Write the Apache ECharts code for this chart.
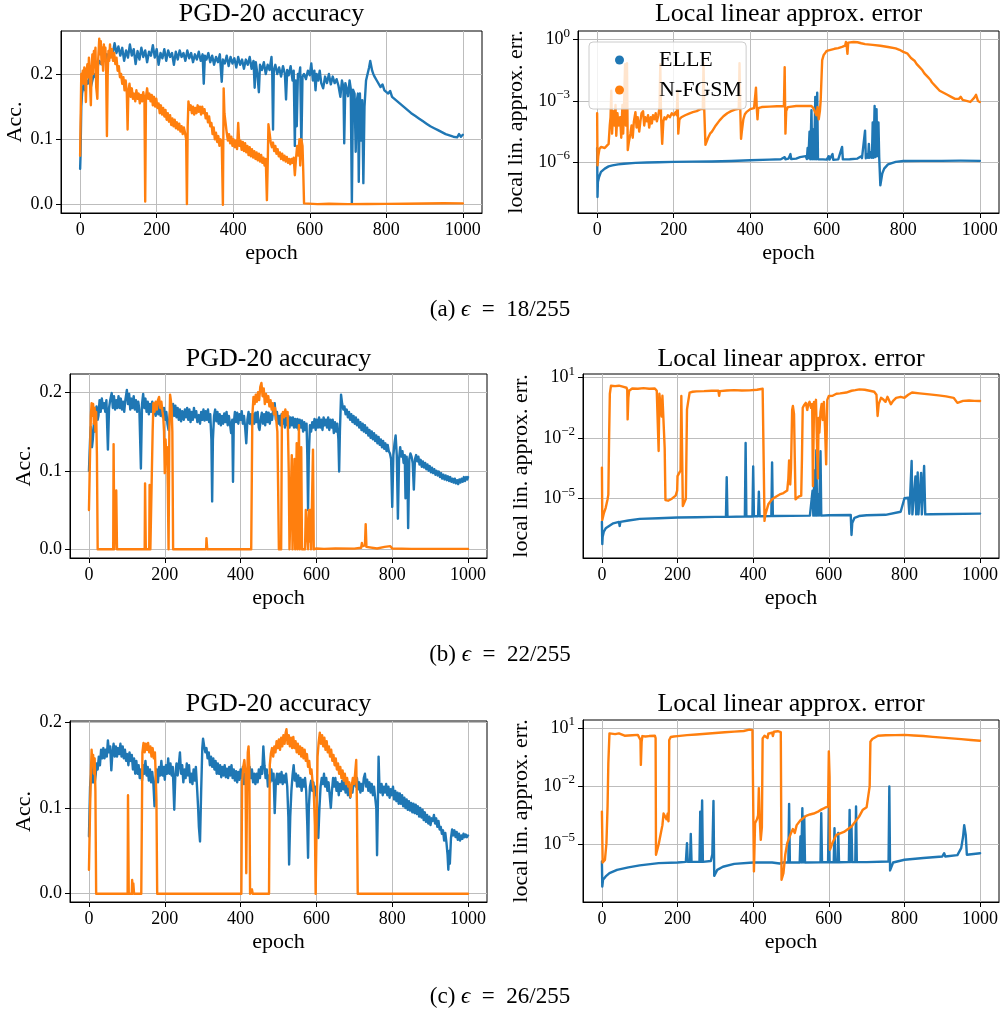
<!DOCTYPE html>
<html><head><meta charset="utf-8">
<script src="https://cdn.jsdelivr.net/npm/echarts@6/dist/echarts.min.js"></script>
<style>html,body{margin:0;padding:0;background:#fff}#c{width:1003px;height:1013px}</style>
</head><body><div id="c"></div><script>
// ---------- data (epoch, value). Error series are stored as log10(error) ----------
const epochTicks = [0,200,400,600,800,1000];
const accTicks = [0,0.1,0.2];
const errTicksA = [-6,-3,0];
const errTicksBC = [-5,-2,1];
const seriesNames = ['ELLE','N-FGSM'];
const captions = ['(a) {i|\u03f5}\u2002=\u200218/255','(b) {i|\u03f5}\u2002=\u200222/255','(c) {i|\u03f5}\u2002=\u200226/255'];

const aAccELLE = [[0,0.055],[1,0.075],[3,0.15],[5,0.17],[8,0.18],[10,0.19],[13,0.175],[16,0.19],[20,0.185],[24,0.195],[28,0.18],[32,0.19],[36,0.2],[40,0.195],[45,0.21],[50,0.22],[55,0.215],[60,0.225],[65,0.22],[70,0.23],[75,0.225],[80,0.235],[85,0.23],[90,0.247],[95,0.232],[100,0.242],[105,0.228],[110,0.24],[115,0.22],[120,0.236],[125,0.225],[130,0.245],[135,0.228],[140,0.238],[145,0.215],[150,0.235],[155,0.222],[160,0.24],[165,0.226],[170,0.236],[175,0.218],[180,0.234],[185,0.228],[190,0.244],[195,0.225],[200,0.238],[205,0.214],[210,0.232],[215,0.224],[220,0.238],[225,0.22],[230,0.236],[235,0.226],[240,0.232],[245,0.214],[250,0.234],[255,0.222],[260,0.236],[265,0.226],[270,0.232],[275,0.22],[280,0.236],[285,0.224],[290,0.232],[295,0.218],[300,0.23],[305,0.222],[310,0.234],[315,0.22],[320,0.23],[323,0.185],[326,0.228],[330,0.222],[335,0.232],[340,0.218],[345,0.228],[350,0.214],[355,0.226],[360,0.218],[365,0.23],[370,0.188],[373,0.222],[378,0.216],[383,0.228],[388,0.212],[393,0.226],[398,0.216],[403,0.224],[408,0.21],[413,0.226],[418,0.214],[423,0.222],[428,0.208],[433,0.222],[438,0.214],[443,0.226],[448,0.208],[453,0.22],[456,0.179],[459,0.218],[463,0.2],[467,0.172],[470,0.214],[475,0.206],[480,0.218],[485,0.2],[490,0.214],[495,0.206],[500,0.226],[502,0.2],[504,0.115],[506,0.205],[510,0.214],[515,0.2],[520,0.21],[525,0.196],[530,0.212],[535,0.2],[538,0.161],[541,0.206],[545,0.198],[550,0.212],[555,0.19],[558,0.205],[561,0.09],[563,0.19],[566,0.12],[569,0.2],[572,0.196],[575,0.21],[578,0.087],[581,0.196],[585,0.2],[590,0.192],[595,0.205],[600,0.198],[604,0.216],[608,0.19],[612,0.205],[615,0.175],[618,0.2],[622,0.19],[626,0.205],[630,0.186],[635,0.178],[640,0.196],[645,0.186],[650,0.2],[655,0.184],[660,0.196],[665,0.186],[670,0.192],[675,0.182],[680,0.165],[684,0.19],[688,0.18],[690,0.094],[693,0.186],[697,0.176],[700,0.166],[704,0.19],[707,0.178],[710,0.002],[713,0.176],[717,0.17],[720,0.081],[723,0.16],[726,0.17],[728,0.035],[731,0.17],[734,0.098],[737,0.16],[740,0.033],[743,0.15],[747,0.19],[751,0.2],[755,0.21],[758,0.22],[760,0.222],[763,0.205],[766,0.2],[770,0.195],[775,0.19],[780,0.188],[785,0.18],[790,0.184],[795,0.175],[800,0.178],[805,0.17],[810,0.174],[815,0.165],[820,0.168],[825,0.16],[830,0.163],[835,0.155],[840,0.158],[845,0.15],[850,0.152],[855,0.145],[860,0.148],[865,0.14],[870,0.142],[875,0.136],[880,0.138],[885,0.132],[890,0.134],[895,0.128],[900,0.13],[905,0.124],[910,0.126],[915,0.12],[920,0.122],[925,0.117],[930,0.119],[935,0.114],[940,0.116],[945,0.111],[950,0.113],[955,0.108],[960,0.11],[965,0.106],[970,0.108],[975,0.104],[980,0.106],[985,0.103],[990,0.108],[995,0.104],[1000,0.107]];

const aAccNFGSM = [[0,0.075],[1,0.12],[3,0.2],[5,0.19],[7,0.205],[9,0.185],[11,0.21],[13,0.2],[15,0.157],[17,0.205],[19,0.215],[21,0.195],[23,0.225],[25,0.2],[28,0.152],[30,0.21],[32,0.23],[34,0.2],[36,0.235],[38,0.21],[40,0.24],[42,0.18],[45,0.162],[47,0.22],[50,0.254],[52,0.23],[54,0.25],[56,0.215],[58,0.24],[60,0.205],[62,0.245],[64,0.225],[66,0.24],[68,0.2],[70,0.105],[72,0.2],[74,0.235],[76,0.22],[78,0.245],[80,0.225],[83,0.238],[86,0.22],[89,0.232],[92,0.215],[95,0.225],[98,0.205],[101,0.212],[104,0.195],[107,0.2],[110,0.185],[113,0.195],[116,0.175],[119,0.19],[122,0.17],[124,0.115],[126,0.172],[129,0.185],[132,0.165],[135,0.178],[138,0.162],[141,0.17],[144,0.158],[147,0.175],[150,0.162],[153,0.17],[156,0.155],[159,0.168],[162,0.158],[165,0.172],[168,0.16],[170,0.005],[172,0.165],[175,0.178],[178,0.162],[181,0.17],[184,0.158],[187,0.168],[190,0.152],[193,0.165],[196,0.15],[199,0.162],[202,0.148],[205,0.155],[208,0.14],[211,0.152],[214,0.138],[217,0.148],[220,0.135],[223,0.145],[226,0.13],[229,0.14],[232,0.127],[235,0.137],[238,0.122],[241,0.132],[244,0.12],[247,0.13],[250,0.117],[253,0.126],[256,0.115],[259,0.124],[262,0.112],[265,0.12],[268,0.108],[271,0.118],[274,0.11],[277,0.1],[279,0.001],[281,0.12],[283,0.158],[286,0.145],[289,0.152],[292,0.14],[295,0.15],[298,0.138],[301,0.148],[304,0.14],[307,0.152],[310,0.142],[313,0.15],[316,0.138],[319,0.15],[322,0.14],[325,0.146],[328,0.132],[331,0.14],[334,0.126],[337,0.135],[340,0.12],[343,0.125],[346,0.108],[349,0.118],[352,0.1],[355,0.11],[358,0.096],[361,0.105],[364,0.09],[367,0.1],[370,0.095],[373,0.0],[375,0.178],[377,0.14],[380,0.125],[383,0.11],[386,0.098],[389,0.108],[392,0.094],[395,0.104],[398,0.09],[401,0.1],[404,0.088],[407,0.098],[410,0.085],[413,0.125],[416,0.09],[419,0.098],[422,0.084],[425,0.096],[428,0.082],[431,0.094],[434,0.08],[437,0.09],[440,0.076],[443,0.088],[446,0.074],[449,0.085],[452,0.072],[455,0.082],[458,0.07],[461,0.08],[464,0.068],[467,0.078],[470,0.066],[473,0.076],[476,0.064],[479,0.072],[482,0.06],[485,0.07],[488,0.007],[490,0.06],[492,0.123],[495,0.11],[498,0.095],[501,0.088],[504,0.095],[507,0.082],[510,0.09],[513,0.078],[516,0.085],[519,0.074],[522,0.08],[525,0.07],[528,0.078],[531,0.068],[534,0.075],[537,0.066],[540,0.073],[543,0.064],[546,0.07],[549,0.062],[552,0.07],[555,0.064],[558,0.072],[561,0.045],[564,0.07],[567,0.09],[570,0.075],[573,0.1],[575,0.06],[578,0.1],[581,0.09],[583,0.05],[585,0.002],[590,0.001],[620,0.0008],[650,0.0015],[652,0.0005],[700,0.0008],[750,0.001],[800,0.0012],[850,0.0015],[900,0.0018],[950,0.0022],[1000,0.002]];

const aErrELLE = [[0,-5.3],[1,-7.7],[2,-6.96],[5,-6.72],[10,-6.47],[15,-6.38],[20,-6.31],[30,-6.2],[40,-6.15],[55,-6.1],[70,-6.07],[100,-6.03],[130,-6.01],[160,-6.0],[200,-5.98],[250,-5.97],[300,-5.96],[350,-5.94],[400,-5.9],[450,-5.87],[480,-5.85],[490,-5.75],[492,-5.85],[500,-5.82],[505,-5.6],[507,-5.84],[520,-5.82],[530,-5.75],[535,-5.84],[545,-5.7],[548,-5.84],[550,-5.3],[552,-5.8],[555,-4.5],[557,-5.85],[560,-3.45],[562,-5.85],[565,-4.4],[567,-5.85],[570,-2.8],[572,-5.85],[575,-2.6],[577,-5.85],[580,-5.88],[590,-5.86],[600,-5.87],[605,-5.7],[607,-5.87],[615,-5.6],[617,-5.88],[630,-5.86],[640,-5.25],[642,-5.86],[660,-5.85],[680,-5.82],[690,-5.7],[692,-5.8],[700,-4.45],[702,-5.8],[705,-5.6],[708,-5.78],[710,-5.1],[712,-5.78],[716,-5.5],[718,-5.78],[720,-4.05],[722,-5.78],[725,-3.25],[727,-5.75],[730,-3.4],[732,-5.7],[735,-4.05],[737,-5.75],[740,-7.13],[745,-6.55],[750,-6.31],[760,-6.1],[780,-5.98],[800,-5.94],[850,-5.93],[900,-5.93],[950,-5.92],[1000,-5.93]];

const aErrNFGSM = [[0,-3.6],[1,-6.15],[3,-5.7],[6,-5.35],[10,-5.25],[15,-5.2],[20,-5.3],[25,-5.2],[30,-5.1],[33,-4.2],[35,-3.8],[37,-2.5],[39,-4.6],[42,-3.5],[45,-4.2],[48,-3.2],[50,-4.7],[53,-3.6],[56,-4.2],[60,-3.8],[63,-4.8],[66,-3.2],[68,-4.6],[70,-3.5],[73,-1.2],[75,-4.2],[78,-1.15],[80,-5.4],[83,-5.0],[87,-4.6],[90,-4.2],[93,-4.8],[96,-4.0],[100,-3.55],[103,-4.3],[106,-3.8],[110,-4.5],[113,-4.0],[116,-3.6],[120,-3.5],[123,-4.2],[126,-3.8],[130,-4.0],[133,-3.7],[136,-4.3],[140,-3.8],[143,-4.1],[146,-3.7],[150,-3.9],[153,-3.6],[156,-4.0],[160,-3.7],[163,-3.3],[165,-1.2],[167,-3.8],[170,-5.1],[173,-4.0],[176,-3.8],[180,-3.9],[185,-3.7],[190,-3.8],[195,-3.6],[200,-3.7],[205,-3.55],[208,-3.7],[210,-2.5],[212,-4.6],[215,-3.9],[220,-3.8],[230,-3.7],[240,-3.62],[250,-3.55],[260,-3.5],[270,-3.4],[276,-3.4],[278,-1.15],[280,-3.5],[283,-5.15],[286,-5.0],[290,-4.8],[295,-4.6],[300,-4.5],[310,-4.2],[320,-3.95],[330,-3.75],[340,-3.6],[350,-3.5],[360,-3.42],[370,-3.38],[372,-1.15],[374,-3.4],[376,-4.85],[378,-4.5],[382,-3.9],[386,-3.65],[390,-3.55],[400,-3.4],[410,-3.35],[414,-3.3],[415,-2.35],[417,-3.3],[419,-3.9],[421,-3.35],[430,-3.3],[450,-3.28],[470,-3.26],[488,-3.25],[490,-1.35],[492,-4.6],[494,-3.5],[498,-3.3],[520,-3.25],[540,-3.24],[560,-3.25],[565,-3.35],[570,-3.3],[573,-3.7],[576,-3.3],[579,-3.9],[582,-3.5],[584,-3.0],[586,-2.0],[588,-1.0],[592,-0.75],[596,-0.65],[600,-0.55],[610,-0.5],[620,-0.45],[630,-0.42],[640,-0.36],[648,-0.3],[650,-0.12],[652,-0.3],[654,-0.7],[656,-0.15],[660,-0.1],[670,-0.12],[680,-0.13],[690,-0.18],[700,-0.22],[720,-0.26],[740,-0.3],[760,-0.36],[780,-0.43],[790,-0.5],[800,-0.6],[810,-0.67],[820,-0.9],[825,-0.95],[830,-1.05],[835,-1.2],[840,-1.3],[845,-1.38],[850,-1.5],[855,-1.65],[860,-1.72],[865,-1.85],[870,-1.95],[875,-2.1],[880,-2.15],[885,-2.3],[890,-2.3],[895,-2.5],[900,-2.48],[905,-2.6],[910,-2.55],[915,-2.7],[920,-2.68],[925,-2.8],[930,-2.75],[935,-2.9],[940,-2.82],[945,-2.9],[950,-2.8],[955,-2.95],[960,-2.9],[965,-3.0],[970,-2.92],[975,-3.05],[980,-2.98],[985,-2.85],[990,-2.7],[995,-3.0],[1000,-3.05]];

const bAccELLE = [[0,0.1],[3,0.14],[5,0.156],[8,0.13],[10,0.139],[13,0.16],[15,0.15],[18,0.175],[20,0.182],[23,0.165],[25,0.17],[28,0.19],[31,0.175],[34,0.192],[37,0.18],[40,0.186],[43,0.175],[46,0.19],[50,0.127],[53,0.18],[56,0.19],[60,0.199],[63,0.18],[66,0.195],[69,0.178],[72,0.19],[75,0.18],[78,0.195],[81,0.18],[84,0.192],[87,0.178],[90,0.188],[93,0.175],[96,0.19],[100,0.203],[103,0.185],[106,0.198],[109,0.178],[112,0.192],[115,0.18],[118,0.195],[121,0.178],[124,0.19],[127,0.175],[130,0.188],[133,0.178],[137,0.103],[140,0.185],[143,0.198],[146,0.18],[149,0.192],[152,0.175],[155,0.188],[158,0.172],[161,0.185],[164,0.175],[167,0.188],[170,0.172],[173,0.185],[176,0.17],[180,0.184],[183,0.172],[186,0.186],[189,0.17],[192,0.182],[195,0.168],[198,0.18],[201,0.165],[204,0.175],[207,0.16],[210,0.152],[213,0.17],[216,0.182],[219,0.168],[222,0.185],[225,0.17],[228,0.183],[231,0.168],[234,0.18],[237,0.165],[240,0.178],[243,0.163],[246,0.176],[250,0.165],[253,0.178],[256,0.168],[259,0.18],[262,0.165],[265,0.178],[268,0.162],[271,0.175],[274,0.165],[277,0.18],[280,0.168],[283,0.176],[286,0.162],[290,0.171],[293,0.16],[296,0.175],[299,0.165],[302,0.178],[305,0.164],[308,0.176],[311,0.165],[314,0.178],[317,0.162],[320,0.172],[323,0.14],[325,0.061],[327,0.14],[330,0.17],[333,0.178],[336,0.163],[339,0.175],[342,0.16],[345,0.172],[348,0.158],[351,0.17],[354,0.16],[357,0.173],[360,0.162],[363,0.175],[366,0.158],[369,0.17],[372,0.16],[375,0.148],[378,0.165],[380,0.086],[382,0.16],[385,0.175],[388,0.162],[391,0.174],[394,0.16],[397,0.172],[400,0.165],[403,0.176],[406,0.16],[409,0.17],[412,0.155],[415,0.135],[418,0.165],[421,0.175],[424,0.16],[427,0.172],[430,0.158],[433,0.172],[436,0.16],[439,0.174],[442,0.162],[445,0.175],[448,0.155],[450,0.152],[453,0.165],[456,0.174],[459,0.16],[462,0.172],[465,0.158],[468,0.175],[471,0.162],[474,0.174],[477,0.16],[480,0.172],[483,0.165],[486,0.178],[490,0.186],[493,0.165],[496,0.175],[499,0.16],[502,0.17],[505,0.158],[508,0.172],[511,0.16],[514,0.17],[517,0.155],[520,0.168],[523,0.158],[526,0.17],[529,0.155],[532,0.168],[535,0.158],[538,0.168],[541,0.155],[544,0.166],[547,0.155],[550,0.166],[553,0.152],[556,0.165],[559,0.155],[562,0.164],[565,0.15],[568,0.162],[571,0.152],[574,0.16],[576,0.12],[578,0.05],[580,0.12],[583,0.158],[586,0.15],[589,0.162],[592,0.155],[595,0.166],[598,0.152],[601,0.165],[604,0.155],[607,0.168],[610,0.155],[613,0.165],[616,0.152],[619,0.168],[622,0.158],[625,0.165],[628,0.155],[631,0.168],[634,0.152],[637,0.165],[640,0.155],[643,0.165],[646,0.148],[649,0.162],[652,0.15],[655,0.16],[658,0.14],[660,0.099],[662,0.15],[665,0.197],[668,0.185],[671,0.178],[674,0.182],[677,0.172],[680,0.178],[683,0.168],[686,0.175],[689,0.165],[692,0.172],[695,0.162],[698,0.17],[701,0.16],[704,0.168],[707,0.158],[710,0.165],[713,0.155],[716,0.162],[719,0.152],[722,0.16],[725,0.15],[728,0.158],[731,0.148],[734,0.155],[737,0.145],[740,0.152],[743,0.142],[746,0.15],[749,0.14],[752,0.148],[755,0.138],[758,0.145],[761,0.135],[764,0.143],[767,0.133],[770,0.14],[773,0.13],[776,0.138],[779,0.128],[782,0.135],[785,0.125],[788,0.133],[791,0.125],[794,0.122],[797,0.115],[800,0.054],[803,0.12],[806,0.135],[809,0.145],[812,0.12],[815,0.039],[818,0.115],[821,0.13],[824,0.118],[827,0.125],[830,0.11],[833,0.12],[835,0.065],[838,0.118],[840,0.1],[842,0.027],[845,0.115],[848,0.122],[851,0.118],[854,0.11],[857,0.076],[860,0.115],[863,0.12],[866,0.112],[869,0.118],[872,0.108],[875,0.114],[878,0.105],[881,0.112],[884,0.104],[887,0.11],[890,0.102],[893,0.108],[896,0.1],[899,0.106],[902,0.098],[905,0.104],[908,0.097],[911,0.102],[914,0.095],[917,0.1],[920,0.094],[923,0.099],[926,0.092],[929,0.097],[932,0.09],[935,0.095],[938,0.089],[941,0.094],[944,0.088],[947,0.093],[950,0.087],[953,0.092],[956,0.086],[959,0.09],[962,0.085],[965,0.09],[968,0.084],[971,0.088],[974,0.083],[977,0.089],[980,0.085],[983,0.09],[986,0.086],[989,0.092],[992,0.087],[995,0.092],[998,0.089],[1000,0.092]];

const bAccNFGSM = [[0,0.05],[2,0.1],[5,0.17],[7,0.186],[9,0.17],[11,0.185],[13,0.16],[15,0.18],[17,0.15],[19,0.175],[21,0.12],[23,0.0],[64,0.0],[65,0.134],[67,0.0],[71,0.0],[72,0.075],[74,0.0],[147,0.0],[148,0.084],[150,0.0],[159,0.0],[160,0.082],[162,0.0],[166,0.0],[168,0.15],[170,0.186],[173,0.175],[176,0.188],[179,0.178],[182,0.19],[185,0.194],[188,0.18],[191,0.188],[194,0.175],[196,0.169],[198,0.15],[200,0.097],[202,0.14],[204,0.12],[206,0.13],[208,0.08],[210,0.0],[212,0.15],[214,0.197],[216,0.19],[218,0.18],[220,0.15],[222,0.0],[309,0.0],[310,0.014],[312,0.0],[428,0.0],[431,0.17],[434,0.194],[437,0.185],[440,0.197],[443,0.188],[446,0.2],[449,0.19],[452,0.207],[455,0.212],[458,0.195],[461,0.205],[464,0.185],[467,0.198],[470,0.188],[473,0.195],[476,0.182],[479,0.19],[482,0.178],[485,0.186],[488,0.172],[491,0.18],[494,0.165],[497,0.15],[499,0.08],[501,0.0],[507,0.0],[509,0.17],[512,0.175],[515,0.168],[518,0.178],[521,0.17],[524,0.175],[527,0.1],[529,0.0],[534,0.0],[535,0.12],[537,0.0],[541,0.0],[542,0.115],[544,0.0],[547,0.0],[548,0.135],[550,0.0],[553,0.0],[554,0.158],[556,0.0],[558,0.0],[560,0.13],[562,0.0],[570,0.0],[572,0.05],[575,0.048],[578,0.0],[580,0.05],[582,0.01],[584,0.05],[586,0.0],[589,0.0],[591,0.127],[593,0.0],[600,0.001],[620,0.0005],[650,0.001],[700,0.0008],[718,0.002],[720,0.008],[722,0.004],[728,0.005],[730,0.032],[732,0.003],[736,0.002],[760,0.001],[780,0.003],[785,0.001],[795,0.004],[800,0.001],[850,0.0005],[1000,0.0005]];

const bErrELLE = [[0,-6.14],[1,-7.25],[2,-6.88],[5,-6.64],[10,-6.47],[20,-6.34],[30,-6.22],[45,-6.15],[47,-6.35],[49,-6.15],[70,-6.08],[100,-6.0],[150,-5.97],[200,-5.93],[250,-5.92],[300,-5.9],[328,-5.9],[330,-3.94],[332,-5.9],[378,-5.88],[380,-2.24],[382,-5.88],[398,-5.88],[400,-3.4],[402,-5.87],[413,-5.87],[415,-4.65],[417,-5.87],[448,-5.86],[450,-3.2],[452,-5.86],[500,-5.85],[550,-5.84],[555,-5.84],[557,-4.6],[559,-5.84],[562,-3.6],[564,-5.84],[567,-2.6],[569,-5.84],[572,-4.8],[574,-5.84],[578,-2.65],[580,-5.84],[600,-5.82],[658,-5.81],[660,-6.8],[662,-6.2],[668,-5.95],[680,-5.86],[700,-5.82],[750,-5.8],[790,-5.65],[800,-4.98],[805,-5.0],[810,-4.95],[813,-5.75],[819,-3.13],[821,-5.78],[826,-5.78],[829,-3.9],[831,-5.78],[835,-3.7],[837,-5.78],[844,-3.72],[846,-5.78],[852,-3.38],[855,-5.78],[870,-5.77],[1000,-5.74]];

const bErrNFGSM = [[0,-3.46],[1,-6.05],[5,-5.73],[10,-5.45],[15,-5.03],[17,-4.8],[19,-2.0],[21,0.2],[24,0.6],[28,0.62],[35,0.58],[45,0.6],[55,0.55],[65,0.5],[67,0.4],[68,-1.07],[70,0.0],[72,0.35],[80,0.46],[95,0.45],[110,0.48],[125,0.45],[140,0.46],[145,0.35],[148,0.3],[150,-2.64],[152,0.2],[155,0.25],[158,-0.93],[160,0.1],[163,0.1],[166,-2.5],[168,-5.07],[175,-5.1],[185,-5.0],[195,-4.85],[199,-4.6],[200,-3.88],[205,-3.85],[208,-3.6],[210,0.09],[212,0.0],[214,-5.36],[218,-5.3],[222,-5.0],[225,-0.57],[228,-0.2],[232,0.26],[240,0.3],[250,0.32],[270,0.33],[290,0.35],[308,0.35],[310,0.1],[312,0.33],[330,0.36],[350,0.38],[370,0.36],[390,0.37],[410,0.4],[425,0.45],[428,0.4],[430,-6.1],[432,-5.8],[440,-5.28],[450,-5.03],[460,-4.9],[470,-4.79],[480,-4.72],[490,-4.6],[493,-4.0],[495,-3.1],[498,-4.3],[500,-3.5],[503,-0.6],[505,-0.4],[508,-0.8],[510,-3.0],[512,-5.03],[520,-4.9],[527,-4.85],[529,-3.0],[531,-0.49],[535,-0.35],[539,-0.25],[543,-0.6],[546,-0.3],[549,-0.2],[553,-0.5],[556,-0.3],[558,-4.37],[561,-0.2],[564,-0.4],[566,-0.1],[569,-2.5],[571,-4.0],[573,-1.0],[575,-1.73],[578,-0.7],[581,-0.3],[584,-1.1],[587,-0.2],[590,-1.5],[593,-3.3],[596,-0.1],[600,0.09],[610,0.1],[620,0.2],[630,0.22],[646,0.26],[660,0.35],[670,0.38],[681,0.42],[695,0.4],[708,0.35],[720,0.3],[726,0.15],[729,-0.9],[732,-0.3],[738,0.0],[745,-0.1],[750,-0.2],[755,0.05],[764,-0.32],[770,-0.15],[778,0.0],[790,0.05],[800,0.0],[810,0.15],[820,0.26],[840,0.22],[866,0.17],[890,0.12],[910,0.07],[930,0.0],[940,-0.25],[945,-0.32],[955,-0.15],[971,-0.13],[985,-0.15],[1000,-0.16]];

const cAccELLE = [[0,0.067],[3,0.125],[6,0.14],[9,0.13],[12,0.15],[15,0.129],[18,0.14],[20,0.152],[23,0.145],[26,0.16],[29,0.15],[32,0.168],[35,0.158],[38,0.17],[41,0.158],[44,0.168],[47,0.16],[50,0.179],[53,0.165],[56,0.172],[59,0.144],[62,0.165],[65,0.175],[68,0.16],[71,0.172],[74,0.16],[77,0.17],[80,0.163],[83,0.175],[86,0.16],[89,0.172],[92,0.158],[95,0.168],[98,0.155],[101,0.163],[104,0.15],[107,0.165],[110,0.155],[113,0.162],[116,0.145],[119,0.158],[122,0.14],[125,0.155],[128,0.14],[131,0.15],[134,0.135],[137,0.145],[140,0.132],[143,0.15],[146,0.14],[149,0.155],[152,0.138],[155,0.148],[158,0.132],[161,0.145],[164,0.13],[167,0.142],[170,0.128],[173,0.102],[176,0.135],[179,0.145],[182,0.13],[185,0.148],[188,0.138],[191,0.155],[194,0.138],[197,0.148],[200,0.133],[203,0.15],[206,0.14],[209,0.158],[212,0.14],[215,0.152],[218,0.138],[221,0.148],[225,0.098],[228,0.14],[231,0.152],[234,0.138],[237,0.15],[240,0.165],[243,0.14],[246,0.15],[249,0.13],[252,0.145],[255,0.135],[258,0.152],[261,0.138],[264,0.15],[267,0.13],[270,0.14],[273,0.128],[276,0.145],[279,0.132],[282,0.148],[285,0.125],[288,0.1],[290,0.078],[293,0.061],[296,0.12],[299,0.17],[301,0.181],[304,0.172],[307,0.165],[310,0.17],[313,0.158],[316,0.165],[319,0.15],[322,0.16],[325,0.148],[328,0.158],[331,0.145],[334,0.155],[337,0.14],[340,0.152],[343,0.14],[346,0.15],[349,0.136],[352,0.148],[355,0.138],[358,0.15],[361,0.136],[364,0.146],[367,0.135],[370,0.148],[373,0.138],[376,0.15],[379,0.135],[382,0.145],[385,0.132],[388,0.143],[391,0.13],[394,0.142],[397,0.133],[400,0.145],[403,0.135],[406,0.148],[409,0.128],[412,0.14],[415,0.13],[418,0.145],[421,0.138],[424,0.148],[427,0.135],[430,0.145],[433,0.13],[436,0.14],[439,0.128],[442,0.14],[445,0.13],[448,0.145],[451,0.135],[454,0.148],[457,0.14],[460,0.172],[463,0.15],[466,0.135],[469,0.145],[472,0.125],[475,0.138],[478,0.13],[481,0.145],[484,0.132],[487,0.14],[490,0.094],[493,0.13],[496,0.14],[499,0.128],[502,0.14],[505,0.13],[508,0.142],[511,0.128],[514,0.138],[517,0.13],[520,0.14],[523,0.125],[526,0.09],[528,0.034],[531,0.09],[534,0.12],[537,0.138],[540,0.15],[543,0.132],[546,0.14],[549,0.125],[552,0.138],[555,0.125],[558,0.135],[561,0.12],[564,0.133],[567,0.125],[570,0.135],[573,0.12],[576,0.08],[578,0.042],[580,0.1],[583,0.125],[586,0.132],[589,0.12],[592,0.13],[595,0.115],[598,0.125],[601,0.11],[603,0.08],[605,0.065],[608,0.1],[611,0.125],[614,0.135],[617,0.128],[620,0.14],[623,0.125],[626,0.135],[629,0.12],[632,0.13],[635,0.115],[638,0.1],[641,0.12],[644,0.135],[647,0.125],[650,0.135],[653,0.12],[656,0.13],[659,0.115],[662,0.128],[665,0.12],[668,0.132],[671,0.122],[674,0.13],[677,0.118],[680,0.128],[683,0.115],[686,0.125],[689,0.112],[692,0.125],[695,0.118],[698,0.13],[701,0.133],[704,0.125],[707,0.135],[710,0.122],[713,0.13],[716,0.118],[719,0.128],[722,0.12],[725,0.135],[728,0.14],[731,0.125],[734,0.133],[737,0.12],[740,0.13],[743,0.118],[746,0.128],[749,0.115],[752,0.125],[755,0.112],[758,0.1],[760,0.045],[762,0.1],[764,0.16],[766,0.13],[769,0.118],[772,0.128],[775,0.115],[778,0.125],[781,0.118],[784,0.128],[787,0.115],[790,0.125],[793,0.112],[796,0.122],[799,0.115],[802,0.125],[805,0.11],[808,0.12],[811,0.108],[814,0.118],[817,0.105],[820,0.117],[823,0.105],[826,0.115],[829,0.102],[832,0.112],[835,0.1],[838,0.11],[841,0.098],[844,0.108],[847,0.097],[850,0.106],[853,0.095],[856,0.105],[859,0.094],[862,0.104],[865,0.093],[868,0.102],[871,0.09],[874,0.1],[877,0.089],[880,0.098],[883,0.086],[886,0.095],[889,0.084],[892,0.092],[895,0.082],[898,0.09],[901,0.08],[904,0.088],[907,0.085],[910,0.092],[913,0.082],[916,0.088],[919,0.078],[922,0.085],[925,0.075],[928,0.078],[931,0.07],[934,0.074],[937,0.062],[940,0.071],[943,0.06],[946,0.045],[948,0.028],[950,0.05],[952,0.035],[955,0.065],[958,0.075],[961,0.068],[964,0.074],[967,0.066],[970,0.072],[973,0.063],[976,0.07],[979,0.062],[982,0.068],[985,0.064],[988,0.07],[991,0.066],[994,0.069],[997,0.066],[1000,0.068]];

const cAccNFGSM = [[0,0.028],[3,0.1],[5,0.14],[7,0.168],[9,0.15],[11,0.162],[13,0.14],[15,0.158],[17,0.12],[19,0.0],[102,0.0],[103,0.115],[105,0.0],[113,0.0],[114,0.016],[116,0.0],[117,0.012],[119,0.0],[138,0.0],[141,0.165],[144,0.176],[147,0.165],[150,0.175],[153,0.168],[156,0.176],[159,0.165],[162,0.172],[165,0.16],[168,0.17],[171,0.158],[174,0.165],[176,0.14],[178,0.11],[180,0.0],[402,0.0],[404,0.13],[407,0.148],[410,0.156],[413,0.14],[415,0.024],[417,0.12],[419,0.165],[421,0.172],[423,0.15],[425,0.0],[428,0.0],[430,0.005],[432,0.0],[475,0.0],[477,0.15],[480,0.164],[483,0.17],[486,0.16],[489,0.172],[492,0.165],[495,0.178],[498,0.17],[501,0.18],[504,0.168],[507,0.182],[510,0.172],[513,0.185],[516,0.175],[519,0.188],[521,0.192],[524,0.175],[527,0.185],[530,0.172],[533,0.182],[536,0.17],[539,0.183],[542,0.17],[545,0.178],[548,0.165],[551,0.175],[554,0.163],[557,0.172],[560,0.16],[563,0.17],[566,0.158],[569,0.168],[572,0.155],[575,0.163],[578,0.148],[581,0.155],[584,0.14],[587,0.145],[590,0.13],[593,0.12],[596,0.08],[598,0.0],[601,0.0],[603,0.16],[606,0.177],[609,0.188],[612,0.175],[615,0.185],[618,0.172],[621,0.182],[624,0.168],[627,0.178],[630,0.165],[633,0.172],[636,0.16],[639,0.168],[642,0.155],[645,0.162],[648,0.15],[651,0.158],[654,0.145],[657,0.152],[660,0.14],[663,0.148],[666,0.135],[669,0.144],[672,0.132],[675,0.14],[678,0.128],[681,0.135],[684,0.125],[687,0.13],[690,0.113],[693,0.125],[696,0.135],[699,0.128],[702,0.14],[705,0.156],[707,0.1],[709,0.0],[1000,0.0]];

const cErrELLE = [[0,-5.88],[1,-7.17],[3,-6.82],[10,-6.65],[20,-6.48],[40,-6.31],[70,-6.18],[100,-6.08],[150,-5.96],[200,-5.93],[222,-5.9],[225,-4.93],[227,-5.9],[233,-5.9],[235,-4.45],[237,-5.9],[258,-5.9],[260,-3.3],[262,-5.9],[264,-5.9],[265,-2.73],[267,-5.9],[288,-5.85],[292,-5.5],[295,-2.75],[297,-6.62],[305,-6.31],[320,-6.15],[350,-6.0],[400,-5.93],[450,-5.93],[470,-5.98],[480,-5.93],[493,-5.93],[495,-2.9],[497,-5.93],[523,-5.93],[525,-4.59],[527,-5.93],[529,-5.93],[530,-3.13],[532,-5.93],[534,-5.93],[535,-3.56],[537,-5.93],[578,-5.92],[580,-3.38],[582,-5.92],[598,-5.92],[600,-3.04],[602,-5.92],[613,-5.92],[615,-4.16],[617,-5.92],[623,-5.92],[625,-4.4],[627,-5.92],[653,-5.91],[655,-3.21],[657,-5.91],[659,-5.91],[660,-4.07],[662,-5.91],[670,-5.91],[672,-3.04],[674,-5.91],[700,-5.91],[758,-5.88],[760,-2.0],[762,-6.34],[770,-5.93],[800,-5.79],[850,-5.7],[900,-5.62],[905,-5.45],[908,-5.62],[940,-5.55],[950,-5.19],[955,-4.6],[958,-4.0],[960,-3.93],[962,-4.5],[965,-5.53],[1000,-5.45]];

const cErrNFGSM = [[0,-3.3],[2,-5.93],[8,-5.8],[12,-4.93],[15,-3.0],[17,-0.8],[20,0.74],[25,0.78],[35,0.7],[45,0.74],[60,0.62],[80,0.64],[95,0.66],[100,0.62],[102,0.4],[103,-0.89],[105,0.3],[107,0.6],[110,0.5],[115,0.58],[125,0.6],[140,0.62],[142,0.5],[143,-5.53],[150,-5.0],[155,-4.5],[160,-4.0],[163,-3.4],[165,-3.5],[168,-3.3],[171,-3.7],[174,-3.4],[176,-3.8],[177,-3.2],[178,0.4],[182,0.55],[190,0.58],[200,0.6],[225,0.65],[250,0.68],[275,0.72],[300,0.76],[325,0.8],[350,0.83],[375,0.86],[390,0.93],[398,0.9],[401,0.8],[402,-6.39],[405,-3.9],[410,-3.7],[413,-3.5],[415,-2.09],[417,-3.5],[420,-4.76],[423,-4.1],[425,0.48],[430,0.62],[435,0.7],[438,0.5],[440,0.72],[445,0.8],[450,0.78],[452,0.6],[455,0.82],[465,0.85],[470,0.84],[473,0.8],[475,-6.82],[480,-6.48],[485,-5.5],[490,-4.93],[500,-4.41],[505,-4.2],[510,-4.4],[515,-4.0],[520,-3.9],[525,-3.75],[530,-3.7],[540,-3.52],[550,-3.45],[560,-3.4],[570,-3.32],[580,-3.2],[590,-3.1],[598,-3.04],[600,-0.2],[602,-1.5],[603,-5.27],[610,-4.9],[620,-4.5],[640,-4.35],[660,-4.07],[680,-3.56],[690,-3.2],[700,-3.07],[705,-3.05],[708,-2.0],[710,0.31],[715,0.45],[730,0.62],[750,0.64],[775,0.65],[800,0.66],[825,0.63],[850,0.6],[875,0.56],[900,0.52],[925,0.48],[950,0.44],[975,0.4],[1000,0.36]];

// ---------- layout ----------
const F = '"Liberation Serif", "DejaVu Serif", serif';
const C = ['#1f77b4', '#ff7f0e'];
const panels = [
  {g:[61,31,421,182], y:[-0.0127,0.2657], log:false, ticks:accTicks, s:[aAccELLE,aAccNFGSM], title:'PGD-20 accuracy', yname:'Acc.', gap:33, ty:14},
  {g:[578,31,421,182], y:[-8.48,0.42], log:true, ticks:errTicksA, s:[aErrELLE,aErrNFGSM], title:'Local linear approx. error', yname:'local lin. approx. err.', gap:51, ty:14},
  {g:[70,374,417,184], y:[-0.0111,0.2233], log:false, ticks:accTicks, s:[bAccELLE,bAccNFGSM], title:'PGD-20 accuracy', yname:'Acc.', gap:33, ty:359},
  {g:[583,374,416,184], y:[-7.94,1.18], log:true, ticks:errTicksBC, s:[bErrELLE,bErrNFGSM], title:'Local linear approx. error', yname:'local lin. approx. err.', gap:51, ty:359},
  {g:[70,721,417,181], y:[-0.0097,0.2016], log:false, ticks:accTicks, s:[cAccELLE,cAccNFGSM], title:'PGD-20 accuracy', yname:'Acc.', gap:33, ty:704},
  {g:[583,720,416,182], y:[-7.97,1.43], log:true, ticks:errTicksBC, s:[cErrELLE,cErrNFGSM], title:'Local linear approx. error', yname:'local lin. approx. err.', gap:51, ty:704}
];
const captionY = [310, 655, 997];

function supLabel(v){
  const e = Math.round(v);
  const s = e < 0 ? '\u2212' + (-e) : '' + e;
  return '{b|10}{s|' + s + '}';
}

const grids = [], xAxes = [], yAxes = [], series = [], graphics = [];
panels.forEach((p, i) => {
  grids.push({left:p.g[0], top:p.g[1], width:p.g[2], height:p.g[3], containLabel:false,
    show:true, borderColor:'#000', borderWidth:1, backgroundColor:'transparent'});
  xAxes.push({type:'value', gridIndex:i, min:-50, max:1050,
    name:'epoch', nameLocation:'middle', nameGap:29,
    nameTextStyle:{fontFamily:F, fontSize:22, color:'#000'},
    axisLine:{show:true, onZero:false, lineStyle:{color:'#000', width:1}},
    axisTick:{show:true, inside:false, length:5, customValues:epochTicks, lineStyle:{color:'#000'}},
    axisLabel:{show:true, customValues:epochTicks, margin:8, fontFamily:F, fontSize:18, color:'#000', formatter:v => String(Math.round(v))},
    splitLine:{show:true, lineStyle:{color:'#bdbdbd', width:1}}
  });
  const yl = p.log
    ? {show:true, customValues:p.ticks, margin:8, formatter:supLabel,
       rich:{b:{fontFamily:F, fontSize:18, color:'#000', lineHeight:26},
             s:{fontFamily:F, fontSize:13, color:'#000', verticalAlign:'top', lineHeight:14}}}
    : {show:true, customValues:p.ticks, margin:8, fontFamily:F, fontSize:18, color:'#000', formatter:v => v.toFixed(1)};
  yAxes.push({type:'value', gridIndex:i, min:p.y[0], max:p.y[1],
    name:p.yname, nameLocation:'middle', nameGap:p.gap, nameRotate:90,
    nameTextStyle:{fontFamily:F, fontSize:22, color:'#000'},
    axisLine:{show:true, onZero:false, lineStyle:{color:'#000', width:1}},
    axisTick:{show:true, inside:false, length:5, customValues:p.ticks, lineStyle:{color:'#000'}},
    axisLabel:yl,
    splitLine:{show:true, lineStyle:{color:'#bdbdbd', width:1}}
  });
  p.s.forEach((d, k) => {
    series.push({type:'line', name:seriesNames[k], xAxisIndex:i, yAxisIndex:i, data:d,
      showSymbol:false, symbol:'circle', symbolSize:9, sampling:null, animation:false,
      itemStyle:{color:C[k]},
      lineStyle:{color:C[k], width:2.4, join:'round', cap:'round'}, z:2+k});
  });
  graphics.push({type:'text', x:p.g[0] + p.g[2]/2, y:p.ty,
    style:{text:p.title, fontFamily:F, fontSize:26, fill:'#000', textAlign:'center', textVerticalAlign:'middle'}});
});
captions.forEach((c, i) => {
  graphics.push({type:'text', x:500, y:captionY[i],
    style:{text:c, fontFamily:F, fontSize:23, fill:'#000', textAlign:'center', textVerticalAlign:'middle',
      rich:{i:{fontFamily:F, fontSize:23, fontStyle:'italic', fill:'#000'}}}});
});

const chart = echarts.init(document.getElementById('c'), null, {renderer:'canvas'});
chart.setOption({
  animation:false,
  backgroundColor:'#fff',
  grid:grids, xAxis:xAxes, yAxis:yAxes, series:series,
  legend:{data:seriesNames, orient:'vertical', left:589, top:42, icon:'circle',
    itemWidth:9, itemHeight:9, itemGap:8, padding:[7,4,8,26],
    backgroundColor:'rgba(255,255,255,0.8)', borderColor:'#cccccc', borderWidth:1, borderRadius:4,
    textStyle:{fontFamily:F, fontSize:22, color:'#000', padding:[0,0,0,30]}},
  graphic:graphics
});
</script></body></html>
